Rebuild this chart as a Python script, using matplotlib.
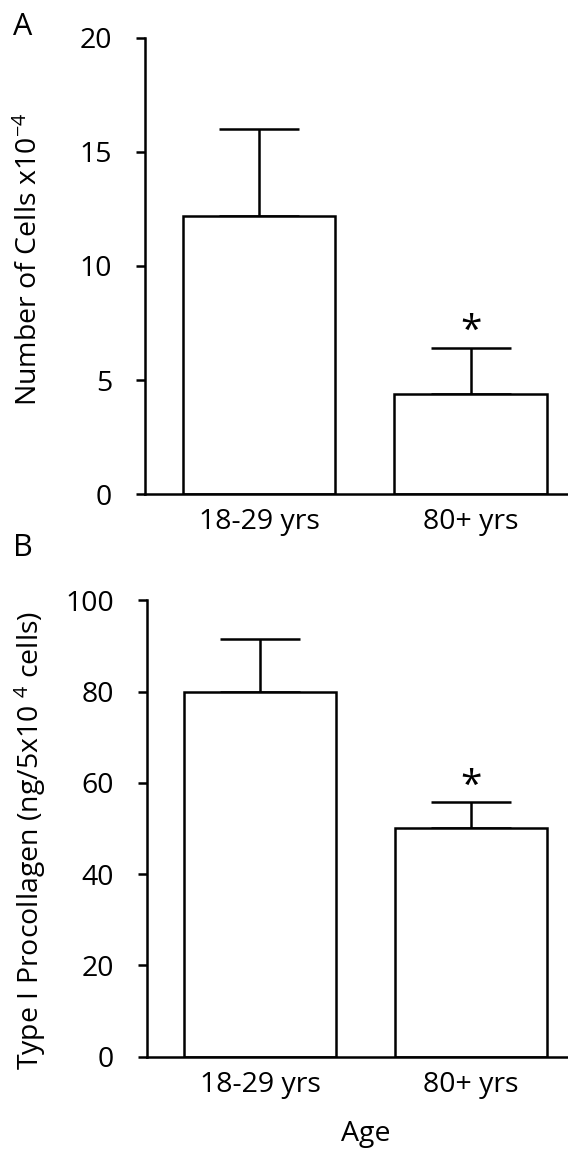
import matplotlib.pyplot as plt
import numpy as np

plt.rcParams['font.family'] = ['Open Sans', 'DejaVu Sans']
plt.rcParams['mathtext.default'] = 'regular'

# data
groups = ['18-29 yrs', '80+ yrs']
cells = [12.2, 4.4]
cells_err = [3.8, 2.0]
procollagen = [80, 50]
procollagen_err = [11.6, 5.8]

fs = 20.5
lw = 1.8

fig = plt.figure(figsize=(5.68, 11.5), dpi=100)


def panel(ax, vals, errs, ymax, step, star_y):
    x = np.arange(len(groups))
    ax.bar(x, vals, width=0.72, color='white', edgecolor='black', linewidth=lw, zorder=2)
    ax.errorbar(x, vals, yerr=[np.zeros(len(vals)), errs], fmt='none', ecolor='black',
                elinewidth=lw, capsize=29, capthick=lw, zorder=1)
    ax.text(x[1], star_y, '*', ha='center', va='center', fontsize=28)
    ax.set_xlim(-0.539, 1.461)
    ax.set_ylim(0, ymax)
    ax.set_yticks(np.arange(0, ymax + 1, step))
    ax.set_xticks(x)
    ax.set_xticklabels(groups)
    for s in ['top', 'right']:
        ax.spines[s].set_visible(False)
    for s in ['left', 'bottom']:
        ax.spines[s].set_linewidth(lw)
    ax.tick_params(axis='y', direction='out', length=6.5, width=lw, pad=17, labelsize=fs)
    ax.tick_params(axis='x', length=0, pad=10, labelsize=fs)


axA = fig.add_axes([0.2553, 0.5704, 0.7447, 0.3966])
panel(axA, cells, cells_err, 20, 5, 7.1)

axB = fig.add_axes([0.258, 0.0812, 0.742, 0.3968])
panel(axB, procollagen, procollagen_err, 100, 20, 59.2)

fig.text(30 / 568, 1 - 259 / 1150, r'Number of Cells x10$^{-4}$', rotation=90,
         ha='center', va='center', fontsize=fs)
fig.text(30 / 568, 1 - 840 / 1150, r'Type I Procollagen (ng/5x10 $^{4}$ cells)', rotation=90,
         ha='center', va='center', fontsize=fs)
fig.text(366 / 568, 1 - 1134 / 1150, 'Age', ha='center', va='center', fontsize=fs)

fig.text(23 / 568, 1 - 27 / 1150, 'A', ha='center', va='center', fontsize=22)
fig.text(23 / 568, 1 - 548 / 1150, 'B', ha='center', va='center', fontsize=22)

fig.savefig('out.png', dpi=100)
